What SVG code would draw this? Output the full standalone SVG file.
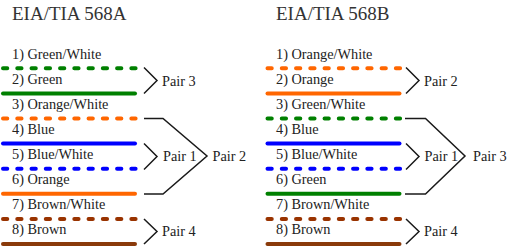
<svg xmlns="http://www.w3.org/2000/svg" width="508" height="247" viewBox="0 0 508 247">
<style>
.title{font-size:19px;fill:#333}
.lbl{font-size:14.3px;fill:#222}
.w{fill:none;stroke-width:4;stroke-linecap:round}
.d{stroke-dasharray:4.26 10}
.g{stroke:#008000}.o{stroke:#ff6600}.b{stroke:#0000ff}.br{stroke:#993300}
.br2{stroke:#8a3a0a}
.k{fill:none;stroke:#1a1a1a;stroke-width:1.5}
</style>
<rect width="508" height="247" fill="#fff"/>
<g font-family="'Liberation Serif', 'DejaVu Serif', serif">
<g id="std-568A">
<text class="title" x="12" y="20">EIA/TIA 568A</text>
<g id="a1"><text class="lbl" x="12" y="58.5">1) Green/White</text><path class="w d g" d="M3 68.3H136"/></g>
<g id="a2"><text class="lbl" x="12" y="83.6">2) Green</text><path class="w g" d="M3 93.4H135"/></g>
<g id="a3"><text class="lbl" x="12" y="108.7">3) Orange/White</text><path class="w d o" d="M3 118.5H136"/></g>
<g id="a4"><text class="lbl" x="12" y="133.8">4) Blue</text><path class="w b" d="M3 143.6H135"/></g>
<g id="a5"><text class="lbl" x="12" y="158.9">5) Blue/White</text><path class="w d b" d="M3 168.7H136"/></g>
<g id="a6"><text class="lbl" x="12" y="184">6) Orange</text><path class="w o" d="M3 193.8H135"/></g>
<g id="a7"><text class="lbl" x="12" y="209.1">7) Brown/White</text><path class="w d br" d="M3 218.9H136"/></g>
<g id="a8"><text class="lbl" x="12" y="234.2">8) Brown</text><path class="w br2" d="M3 244H135"/></g>
<g id="a-pair3"><text class="lbl" x="162" y="85.5">Pair 3</text></g>
<g id="a-pair1"><text class="lbl" x="163" y="160.5">Pair 1</text></g>
<g id="a-pair2"><text class="lbl" x="212.5" y="160.5">Pair 2</text></g>
<g id="a-pair4"><text class="lbl" x="162" y="235.5">Pair 4</text></g>
</g>
<g id="std-568B">
<text class="title" x="276" y="20">EIA/TIA 568B</text>
<g id="b1"><text class="lbl" x="276" y="58.5">1) Orange/White</text><path class="w d o" d="M267.5 68.3H400.5"/></g>
<g id="b2"><text class="lbl" x="276" y="83.6">2) Orange</text><path class="w o" d="M267.5 93.4H399.5"/></g>
<g id="b3"><text class="lbl" x="276" y="108.7">3) Green/White</text><path class="w d g" d="M267.5 118.5H400.5"/></g>
<g id="b4"><text class="lbl" x="276" y="133.8">4) Blue</text><path class="w b" d="M267.5 143.6H399.5"/></g>
<g id="b5"><text class="lbl" x="276" y="158.9">5) Blue/White</text><path class="w d b" d="M267.5 168.7H400.5"/></g>
<g id="b6"><text class="lbl" x="276" y="184">6) Green</text><path class="w g" d="M267.5 193.8H399.5"/></g>
<g id="b7"><text class="lbl" x="276" y="209.1">7) Brown/White</text><path class="w d br" d="M267.5 218.9H400.5"/></g>
<g id="b8"><text class="lbl" x="276" y="234.2">8) Brown</text><path class="w br2" d="M267.5 244H399.5"/></g>
<g id="b-pair2"><text class="lbl" x="424" y="85.5">Pair 2</text></g>
<g id="b-pair1"><text class="lbl" x="424.5" y="160.5">Pair 1</text></g>
<g id="b-pair3"><text class="lbl" x="473" y="160.5">Pair 3</text></g>
<g id="b-pair4"><text class="lbl" x="424" y="235.5">Pair 4</text></g>
</g>
</g>
<g id="connectors">
<path class="k" d="M144 67.5L157 80.5L144 93.5"/>
<path class="k" d="M144 143.5L157 156.5L144 169.5"/>
<path class="k" d="M144 118.5H163L207 156L163 194H144"/>
<path class="k" d="M144 219L157 231.5L144 244"/>
<path class="k" d="M406 67.5L419 80.5L406 93.5"/>
<path class="k" d="M406 143.5L419 156.5L406 169.5"/>
<path class="k" d="M405 118.5H425.5L465 156L425.5 194H405"/>
<path class="k" d="M406 219L419 231.5L406 244"/>
</g>
</svg>
